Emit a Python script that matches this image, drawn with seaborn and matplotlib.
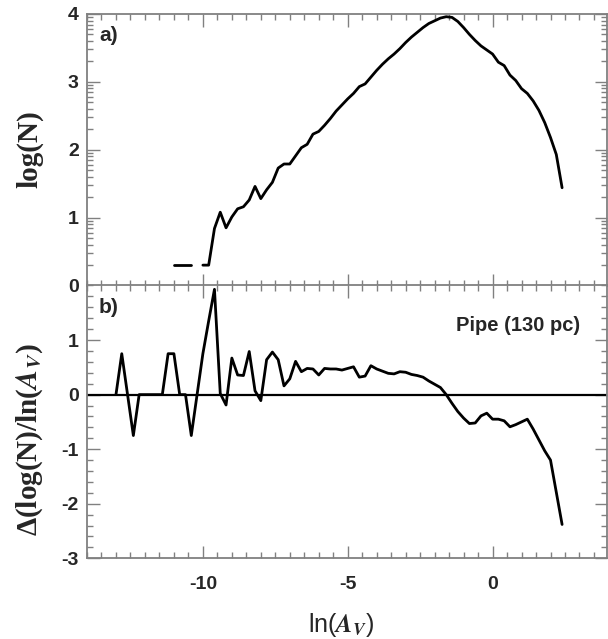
import numpy as np
import pandas as pd
import matplotlib
matplotlib.use("Agg")
import matplotlib.pyplot as plt
import seaborn as sns
from matplotlib.ticker import MultipleLocator, FixedLocator

# ---------------- data ----------------
ln_av = [-13.0, -12.8, -12.6, -12.4, -12.2, -12.0, -11.8, -11.6, -11.4, -11.2,
         -11.0, -10.8, -10.6, -10.4, -10.2, -10.0, -9.8, -9.6, -9.4, -9.2,
         -9.0, -8.8, -8.6, -8.4, -8.2, -8.0, -7.8, -7.6, -7.4, -7.2,
         -7.0, -6.8, -6.6, -6.4, -6.2, -6.0, -5.8, -5.6, -5.4, -5.2,
         -5.0, -4.8, -4.6, -4.4, -4.2, -4.0, -3.8, -3.6, -3.4, -3.2,
         -3.0, -2.8, -2.6, -2.4, -2.2, -2.0, -1.8, -1.6, -1.4, -1.2,
         -1.0, -0.8, -0.6, -0.4, -0.2, 0.0, 0.2, 0.4, 0.6, 0.8,
         1.0, 1.2, 1.4, 1.6, 1.8, 2.0, 2.2, 2.4]

nan = np.nan
log_n = [nan, nan, 0.30, nan, nan, nan, nan, nan, nan, nan,
         0.30, 0.30, 0.30, 0.30, nan, 0.30, 0.30, 0.84, 1.08, 0.85,
         1.01, 1.13, 1.16, 1.26, 1.46, 1.28, 1.41, 1.52, 1.73, 1.79,
         1.79, 1.91, 2.03, 2.08, 2.23, 2.27, 2.36, 2.46, 2.57, 2.66,
         2.75, 2.83, 2.93, 2.97, 3.07, 3.17, 3.26, 3.34, 3.41, 3.49,
         3.58, 3.66, 3.73, 3.80, 3.86, 3.90, 3.94, 3.96, 3.95, 3.89,
         3.80, 3.70, 3.61, 3.53, 3.47, 3.41, 3.29, 3.24, 3.10, 3.02,
         2.90, 2.83, 2.72, 2.58, 2.40, 2.18, 1.93, 1.44]

dlog_dlnav = [0.0, 0.75, 0.0, -0.75, 0.0, 0.0, 0.0, 0.0, 0.0, 0.75,
              0.75, 0.0, 0.0, -0.75, 0.0, 0.75, 1.35, 1.93, 0.02, -0.19,
              0.67, 0.36, 0.35, 0.79, 0.07, -0.11, 0.64, 0.78, 0.64, 0.16,
              0.29, 0.61, 0.42, 0.48, 0.47, 0.36, 0.48, 0.47, 0.47, 0.45,
              0.48, 0.51, 0.32, 0.34, 0.53, 0.47, 0.43, 0.39, 0.38, 0.42,
              0.41, 0.37, 0.35, 0.32, 0.25, 0.19, 0.13, 0.0, -0.16, -0.31,
              -0.43, -0.53, -0.52, -0.39, -0.34, -0.45, -0.45, -0.48, -0.59, -0.55,
              -0.50, -0.45, -0.63, -0.83, -1.03, -1.20, -1.79, -2.38]

top_yticks = [0, 1, 2, 3, 4]
bot_yticks = [-3, -2, -1, 0, 1]
x_ticks = [-10, -5, 0]

# ---------------- style ----------------
sns.set_style("ticks")
plt.rcParams["font.family"] = ["Liberation Sans", "DejaVu Sans"]
plt.rcParams["font.weight"] = "bold"
plt.rcParams["axes.unicode_minus"] = False
plt.rcParams["mathtext.fontset"] = "stix"

GRAY = "#808080"

df = pd.DataFrame({"ln_av": ln_av, "log_n": log_n, "dlog": dlog_dlnav})
df["seg"] = np.cumsum(df["log_n"].isna().to_numpy())
df_top = df.dropna(subset=["log_n"])

fig = plt.figure(figsize=(6.08, 6.39), dpi=100)
W, H = 608, 639
left, right = 87 / W, 607 / W
ax1 = fig.add_axes([left, 1 - 285.5 / H, right - left, 271.5 / H])
ax2 = fig.add_axes([left, 1 - 558.3 / H, right - left, 272.8 / H], sharex=ax1)

sns.lineplot(data=df_top, x="ln_av", y="log_n", units="seg", estimator=None,
             sort=False, color="black", lw=2.0, ax=ax1)
sns.lineplot(data=df, x="ln_av", y="dlog", estimator=None, sort=False,
             color="black", lw=2.0, ax=ax2)
ax2.axhline(0, color="black", lw=1.6, zorder=1)

ax1.set_xlim(-14, 3.95)
ax1.set_ylim(0, 4)
ax2.set_ylim(-3, 2)

ax1.set_yticks(top_yticks)
minor_log = [n + np.log10(k) for n in range(4) for k in range(2, 10)]
ax1.yaxis.set_minor_locator(FixedLocator(minor_log))
ax2.set_yticks(bot_yticks)
ax2.yaxis.set_minor_locator(MultipleLocator(0.2))
ax2.set_xticks(x_ticks)
ax2.xaxis.set_minor_locator(MultipleLocator(0.5))

for ax in (ax1, ax2):
    for sp in ax.spines.values():
        sp.set_visible(True)
        sp.set_color(GRAY)
        sp.set_linewidth(1.3)
    ax.tick_params(which="both", direction="in", top=True, right=True,
                   color=GRAY, width=1.0)
    ax.tick_params(which="major", length=9, labelsize=14)
    ax.tick_params(which="minor", length=4.5)
    ax.tick_params(axis="y", pad=6)
    ax.tick_params(axis="x", pad=13)

ax1.tick_params(labelbottom=False)

ax1.set_xlabel("")
ax1.set_ylabel("log(N)", fontfamily=["Liberation Serif", "DejaVu Serif"],
               fontweight="bold", fontsize=21)
ax1.yaxis.set_label_coords(30 / W, 1 - 149 / H, transform=fig.transFigure)
ax1.yaxis.label.set_va("center")

ax2.set_ylabel("Δ(log(N)/ln($A_V$)", fontfamily=["Liberation Serif", "DejaVu Serif"],
               fontweight="bold", fontsize=21)
ax2.yaxis.set_label_coords(30 / W, 1 - 440 / H, transform=fig.transFigure)
ax2.yaxis.label.set_va("center")

ax2.set_xlabel("ln($A_V$)", fontweight="normal", fontsize=18)
ax2.xaxis.set_label_coords(341 / W, 1 - 625 / H, transform=fig.transFigure)
ax2.xaxis.label.set_va("center")

ax1.text(0.023, 0.921, "a)", transform=ax1.transAxes, fontsize=15,
         fontweight="bold", ha="left", va="center")
ax2.text(0.023, 0.921, "b)", transform=ax2.transAxes, fontsize=15,
         fontweight="bold", ha="left", va="center")
ax2.text(0.948, 0.855, "Pipe (130 pc)", transform=ax2.transAxes, fontsize=14.5,
         fontweight="bold", ha="right", va="center")

fig.savefig("out.png", dpi=100)
